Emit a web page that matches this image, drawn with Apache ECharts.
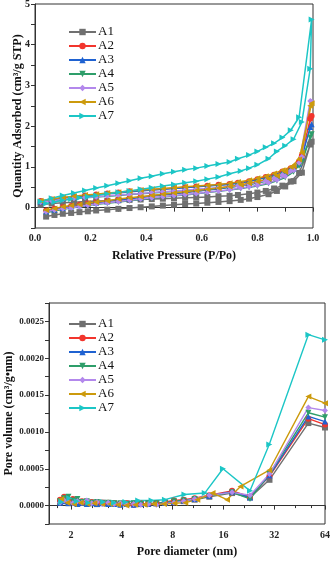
<!DOCTYPE html>
<html>
<head>
<meta charset="utf-8">
<script src="https://cdn.jsdelivr.net/npm/echarts@6/dist/echarts.min.js"></script>
<style>
  html, body { margin: 0; padding: 0; background: #fff; }
  #main { width: 331px; height: 561px; }
</style>
</head>
<body>
<div id="main"></div>
<script>
// series names, colours and symbols
var names = ['A1', 'A2', 'A3', 'A4', 'A5', 'A6', 'A7'];
var colors = ['#707070', '#f2352d', '#1f62d1', '#2e9e6a', '#b388ec', '#cc9a0c', '#1cc6c6'];
var symbols = ['rect', 'circle', 'triangle', 'triangle', 'diamond', 'triangle', 'triangle'];
var rotates = [0, 0, 0, 180, 0, 90, -90];

// isotherms: relative pressure of adsorption / desorption points
var pAds = [0.04, 0.07, 0.10, 0.13, 0.16, 0.19, 0.22, 0.26, 0.30, 0.34, 0.38, 0.42, 0.46, 0.50,
            0.54, 0.58, 0.62, 0.66, 0.70, 0.74, 0.77, 0.80, 0.84, 0.87, 0.90, 0.93, 0.96, 0.99];
var pDes = [0.995, 0.95, 0.92, 0.89, 0.86, 0.83, 0.80, 0.77, 0.73, 0.70, 0.66, 0.62, 0.58, 0.54,
            0.50, 0.46, 0.42, 0.38, 0.34, 0.30, 0.26, 0.22, 0.18, 0.14, 0.10, 0.06, 0.02];

var adsA1 = [-0.22, -0.18, -0.15, -0.13, -0.11, -0.09, -0.07, -0.05, -0.03, -0.01, 0.01, 0.03, 0.05, 0.07,
             0.09, 0.10, 0.12, 0.14, 0.16, 0.19, 0.22, 0.26, 0.33, 0.41, 0.52, 0.65, 0.86, 1.55];
var desA1 = [1.62, 0.85, 0.64, 0.54, 0.47, 0.41, 0.37, 0.34, 0.31, 0.29, 0.28, 0.26, 0.25, 0.24,
             0.23, 0.22, 0.21, 0.20, 0.19, 0.18, 0.17, 0.16, 0.15, 0.13, 0.12, 0.10, 0.07];
var adsA2 = [-0.07, -0.03, 0.01, 0.04, 0.07, 0.10, 0.13, 0.16, 0.20, 0.23, 0.26, 0.29, 0.32, 0.35,
             0.38, 0.41, 0.44, 0.47, 0.51, 0.55, 0.58, 0.62, 0.68, 0.75, 0.85, 0.98, 1.28, 2.18];
var desA2 = [2.25, 1.12, 0.97, 0.89, 0.81, 0.75, 0.70, 0.65, 0.61, 0.58, 0.56, 0.54, 0.52, 0.50,
             0.48, 0.46, 0.44, 0.42, 0.40, 0.37, 0.35, 0.32, 0.30, 0.27, 0.24, 0.20, 0.16];
var adsA3 = [-0.09, -0.05, -0.01, 0.03, 0.06, 0.09, 0.12, 0.15, 0.19, 0.22, 0.25, 0.28, 0.31, 0.34,
             0.37, 0.40, 0.43, 0.46, 0.50, 0.54, 0.57, 0.61, 0.67, 0.74, 0.83, 0.96, 1.24, 1.98];
var desA3 = [2.05, 1.08, 0.95, 0.87, 0.80, 0.74, 0.69, 0.64, 0.60, 0.57, 0.55, 0.53, 0.51, 0.49,
             0.47, 0.45, 0.43, 0.41, 0.39, 0.36, 0.34, 0.31, 0.29, 0.26, 0.23, 0.19, 0.15];
var adsA4 = [-0.12, -0.08, -0.04, -0.01, 0.02, 0.05, 0.08, 0.11, 0.14, 0.17, 0.20, 0.23, 0.26, 0.29,
             0.31, 0.34, 0.37, 0.40, 0.43, 0.47, 0.50, 0.53, 0.59, 0.66, 0.74, 0.88, 1.12, 1.72];
var desA4 = [1.80, 1.02, 0.88, 0.79, 0.71, 0.65, 0.61, 0.57, 0.53, 0.50, 0.48, 0.46, 0.44, 0.42,
             0.40, 0.38, 0.36, 0.34, 0.32, 0.30, 0.28, 0.26, 0.24, 0.22, 0.19, 0.16, 0.13];
var adsA5 = [-0.10, -0.06, -0.03, 0.00, 0.03, 0.06, 0.09, 0.12, 0.15, 0.18, 0.21, 0.24, 0.27, 0.30,
             0.32, 0.35, 0.38, 0.41, 0.44, 0.48, 0.51, 0.55, 0.61, 0.68, 0.77, 0.92, 1.25, 2.62];
var desA5 = [2.60, 1.10, 0.90, 0.80, 0.72, 0.66, 0.62, 0.58, 0.54, 0.51, 0.49, 0.47, 0.45, 0.43,
             0.41, 0.39, 0.37, 0.35, 0.33, 0.31, 0.29, 0.27, 0.25, 0.23, 0.20, 0.17, 0.14];
var adsA6 = [-0.06, -0.02, 0.02, 0.05, 0.08, 0.11, 0.14, 0.17, 0.21, 0.24, 0.27, 0.30, 0.33, 0.36,
             0.39, 0.42, 0.45, 0.48, 0.52, 0.56, 0.60, 0.64, 0.71, 0.78, 0.88, 1.02, 1.35, 2.50];
var desA6 = [2.56, 1.18, 1.00, 0.92, 0.84, 0.77, 0.72, 0.67, 0.63, 0.60, 0.57, 0.55, 0.53, 0.51,
             0.49, 0.47, 0.45, 0.43, 0.41, 0.38, 0.36, 0.33, 0.31, 0.28, 0.25, 0.21, 0.17];
var adsA7 = [0.10, 0.14, 0.18, 0.21, 0.24, 0.27, 0.30, 0.34, 0.38, 0.41, 0.45, 0.49, 0.53, 0.57,
             0.61, 0.65, 0.70, 0.75, 0.83, 0.90, 0.97, 1.05, 1.20, 1.38, 1.52, 1.68, 2.10, 3.41];
var desA7 = [4.62, 2.22, 1.90, 1.72, 1.58, 1.48, 1.38, 1.29, 1.20, 1.12, 1.07, 1.02, 0.97, 0.93,
             0.88, 0.83, 0.77, 0.72, 0.66, 0.60, 0.54, 0.48, 0.42, 0.36, 0.30, 0.23, 0.15];

var adsAll = [adsA1, adsA2, adsA3, adsA4, adsA5, adsA6, adsA7];
var desAll = [desA1, desA2, desA3, desA4, desA5, desA6, desA7];

// pore size distribution: diameters (nm) and pore volumes
var dA = [1.72, 1.82, 1.93, 2.05, 2.18, 2.32, 2.48, 2.65, 2.85, 3.07, 3.32, 3.6, 3.92, 4.28,
          4.7, 5.18, 5.74, 6.4, 7.2, 8.15, 9.3, 10.8, 13.2, 18.0, 23.0, 30.0, 51.0, 64.0];
var dA6 = [1.75, 1.9, 2.08, 2.28, 2.5, 2.75, 3.05, 3.4, 3.8, 4.25, 4.8, 5.45, 6.2, 7.1,
           8.2, 9.5, 11.2, 13.8, 16.8, 20.2, 29.9, 51.0, 64.0];
var dA7 = [1.75, 1.95, 2.16, 2.53, 3.1, 3.6, 4.2, 5.0, 6.0, 7.2, 9.4, 12.4, 15.9, 23.0,
           29.9, 51.0, 64.0];

var pvA1 = [0.00005, 0.00007, 0.00004, 0.00006, 0.00003, 0.00005, 0.00003, 0.00004, 0.00002, 0.00004,
            0.00003, 0.00003, 0.00002, 0.00003, 0.00002, 0.00002, 0.00003, 0.00003, 0.00004, 0.00005,
            0.00006, 0.00008, 0.00012, 0.00017, 0.00011, 0.00035, 0.00112, 0.00106];
var pvA2 = [0.00008, 0.00012, 0.00006, 0.00009, 0.00004, 0.00006, 0.00003, 0.00005, 0.00003, 0.00004,
            0.00004, 0.00003, 0.00002, 0.00003, 0.00001, 0.00003, 0.00002, 0.00003, 0.00005, 0.00007,
            0.00008, 0.00010, 0.00014, 0.00020, 0.00012, 0.00040, 0.00118, 0.00110];
var pvA3 = [0.00004, 0.00006, 0.00003, 0.00005, 0.00002, 0.00004, 0.00002, 0.00003, 0.00002, 0.00003,
            0.00002, 0.00002, 0.00001, 0.00002, 0.00001, 0.00002, 0.00002, 0.00003, 0.00004, 0.00005,
            0.00007, 0.00009, 0.00013, 0.00019, 0.00011, 0.00041, 0.00121, 0.00114];
var pvA4 = [0.00006, 0.00010, 0.00012, 0.00007, 0.00009, 0.00005, 0.00006, 0.00004, 0.00005, 0.00003,
            0.00004, 0.00003, 0.00003, 0.00002, 0.00003, 0.00002, 0.00003, 0.00003, 0.00004, 0.00006,
            0.00007, 0.00009, 0.00013, 0.00018, 0.00009, 0.00043, 0.00126, 0.00120];
var pvA5 = [0.00004, 0.00007, 0.00005, 0.00003, 0.00006, 0.00004, 0.00007, 0.00003, 0.00005, 0.00002,
            0.00004, 0.00002, 0.00003, 0.00001, 0.00002, 0.00001, 0.00002, 0.00001, 0.00003, 0.00004,
            0.00006, 0.00009, 0.00014, 0.00018, 0.00014, 0.00043, 0.00133, 0.00129];
var pvA6 = [0.00009, 0.00004, 0.00002, 0.00004, 0.00002, 0.00003, 0.00002, 0.00002, 0.00001, 0.00000,
            0.00001, 0.00001, 0.00002, 0.00002, 0.00003, 0.00004, 0.00008, 0.00017, 0.00008, 0.00026,
            0.00048, 0.00148, 0.00139];
var pvA7 = [0.00005, 0.00010, 0.00006, 0.00004, 0.00005, 0.00004, 0.00005, 0.00007, 0.00007, 0.00008,
            0.00015, 0.00017, 0.00050, 0.00020, 0.00083, 0.00232, 0.00225];

var dAll = [dA, dA, dA, dA, dA, dA6, dA7];
var pvAll = [pvA1, pvA2, pvA3, pvA4, pvA5, pvA6, pvA7];

function zip(xs, ys) {
    var out = [];
    for (var i = 0; i < xs.length; i++) out.push([xs[i], ys[i]]);
    return out;
}

var serif = 'Liberation Serif';
var labelStyle = { fontFamily: serif, fontWeight: 'bold', fontSize: 10, color: '#222' };
var nameStyle = { fontFamily: serif, fontWeight: 'bold', fontSize: 12, color: '#111' };
var lineStyle = { color: '#333', width: 1 };

var series = [];
for (var i = 0; i < names.length; i++) {
    series.push({
        name: names[i], type: 'line', xAxisIndex: 0, yAxisIndex: 0,
        data: zip(pAds, adsAll[i]).concat(zip(pDes, desAll[i])),
        symbol: symbols[i], symbolRotate: rotates[i], symbolSize: 6,
        color: colors[i], lineStyle: { width: 1.5 },
        animation: false, silent: true
    });
}
for (var j = 0; j < names.length; j++) {
    series.push({
        name: names[j], type: 'line', xAxisIndex: 1, yAxisIndex: 1,
        data: zip(dAll[j], pvAll[j]),
        symbol: symbols[j], symbolRotate: rotates[j], symbolSize: 6,
        color: colors[j], lineStyle: { width: 1.4 },
        animation: false, silent: true
    });
}

var legendBase = {
    orient: 'vertical', left: 63, itemWidth: 27, itemHeight: 8, itemGap: 0,
    textStyle: { fontFamily: serif, fontSize: 13, color: '#111', lineHeight: 14, padding: [0, 0, 0, -3] },
    data: names
};

var myChart = echarts.init(document.getElementById('main'));
var option = {
    animation: false,
    grid: [
        { left: 35, right: 18, top: 4, bottom: 333, show: true, borderColor: '#333', borderWidth: 1,
          containLabel: false, outerBoundsMode: 'none' },
        { left: 49, right: 6, top: 303, bottom: 37, show: true, borderColor: '#333', borderWidth: 1,
          containLabel: false, outerBoundsMode: 'none' }
    ],
    legend: [
        Object.assign({}, legendBase, { top: 20 }),
        Object.assign({}, legendBase, { top: 312 })
    ],
    xAxis: [
        {
            type: 'value', gridIndex: 0, min: 0, max: 1, interval: 0.1,
            name: 'Relative Pressure (P/Po)', nameLocation: 'middle', nameGap: 22, nameTextStyle: nameStyle,
            nameMoveOverlap: false,
            axisLine: { lineStyle: lineStyle }, axisTick: { length: 4, lineStyle: lineStyle },
            splitLine: { show: false },
            axisLabel: Object.assign({}, labelStyle, {
                margin: 5,
                formatter: function (v) {
                    var k = Math.round(v * 10);
                    return k % 2 === 0 ? (k / 10).toFixed(1) : '';
                }
            })
        },
        {
            type: 'log', logBase: 2, gridIndex: 1, min: 1.48, max: 64,
            name: 'Pore diameter (nm)', nameLocation: 'middle', nameGap: 22, nameTextStyle: nameStyle,
            nameMoveOverlap: false,
            axisLine: { lineStyle: lineStyle }, axisTick: { length: 4, lineStyle: lineStyle },
            minorTick: { show: true, splitNumber: 3, length: 2.5, lineStyle: lineStyle },
            splitLine: { show: false },
            axisLabel: Object.assign({}, labelStyle, {
                margin: 6, showMinLabel: false,
                formatter: function (v) {
                    var l = Math.log(v) / Math.LN2;
                    return Math.abs(l - Math.round(l)) < 1e-6 ? String(Math.round(v)) : '';
                }
            })
        }
    ],
    yAxis: [
        {
            type: 'value', gridIndex: 0, min: -0.5, max: 5, interval: 0.5,
            name: 'Quantity Adsorbed (cm³/g STP)', nameLocation: 'middle', nameGap: 11, nameTextStyle: nameStyle,
            nameMoveOverlap: false,
            axisLine: { lineStyle: lineStyle }, axisTick: { length: 4, lineStyle: lineStyle },
            splitLine: { show: false },
            axisLabel: Object.assign({}, labelStyle, {
                margin: 5,
                formatter: function (v) {
                    return Math.abs(v - Math.round(v)) < 1e-6 ? String(Math.round(v)) : '';
                }
            })
        },
        {
            type: 'value', gridIndex: 1, min: -0.00025, max: 0.00275, interval: 0.00025,
            name: 'Pore volume (cm³/g•nm)', nameLocation: 'middle', nameGap: 34, nameTextStyle: nameStyle,
            nameMoveOverlap: false,
            axisLine: { lineStyle: lineStyle }, axisTick: { length: 4, lineStyle: lineStyle },
            splitLine: { show: false },
            axisLabel: Object.assign({}, labelStyle, {
                margin: 5, fontSize: 9,
                formatter: function (v) {
                    var k = Math.round(v / 0.00025);
                    return (k % 2 === 0 && k >= 0) ? (k * 0.00025).toFixed(4) : '';
                }
            })
        }
    ],
    series: series
};
myChart.setOption(option);
</script>
</body>
</html>
